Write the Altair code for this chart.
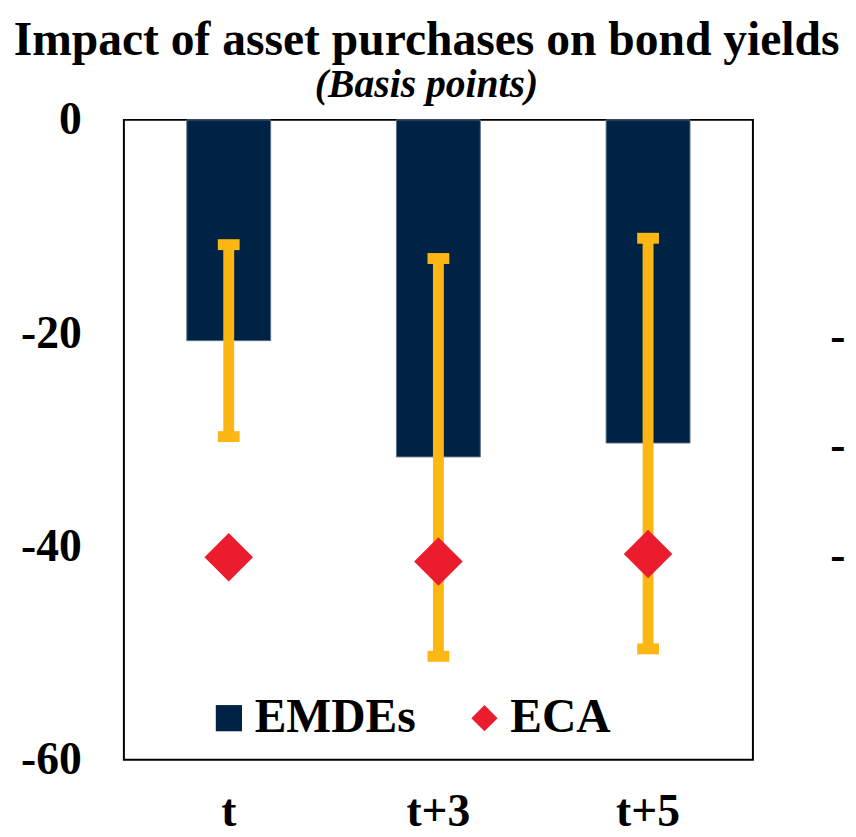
import altair as alt
import pandas as pd

periods = ["t", "t+3", "t+5"]
emdes = [-20.7, -31.6, -30.3]
err_hi = [-11.7, -13.0, -11.1]
err_lo = [-29.7, -50.3, -49.6]
eca = [-41.0, -41.4, -40.7]
y_ticks = [0, -20, -40, -60]
stray_y = [-20.4, -30.6, -40.9]

FONT = "Liberation Serif"
NAVY = "#002345"
GOLD = "#FDB714"
RED = "#EB1C2D"

bars_df = pd.DataFrame({"period": periods, "value": emdes, "series": ["EMDEs"] * 3})
err_df = pd.DataFrame({"period": periods, "hi": err_hi, "lo": err_lo})
eca_df = pd.DataFrame({"period": periods, "value": eca, "series": ["ECA"] * 3})
stray_df = pd.DataFrame({"y": stray_y, "t": ["-"] * 3})

xscale = alt.Scale(domain=periods, paddingInner=0.6, paddingOuter=0.3)
yscale = alt.Scale(domain=[-60, 0], nice=False, zero=False)
series_domain = ["EMDEs", "ECA"]
color_scale = alt.Scale(domain=series_domain, range=[NAVY, RED])
shape_scale = alt.Scale(domain=series_domain, range=["square", "diamond"])

x_enc = alt.X("period:N", scale=xscale, sort=periods, title=None,
              axis=alt.Axis(labelAngle=0, ticks=False, domain=False,
                            labelFont=FONT, labelFontSize=46, labelFontWeight="bold",
                            labelColor="black", labelBaseline="alphabetic",
                            labelPadding=66))

y_axis = alt.Axis(values=y_ticks, ticks=False, domain=False, grid=False,
                  labelFont=FONT, labelFontSize=46, labelFontWeight="bold",
                  labelColor="black", labelPadding=43,
                  labelExpr="datum.value == 0 ? '0' : '-' + abs(datum.value)")

legend = alt.Legend(orient="none", direction="horizontal", legendX=82, legendY=580,
                    title=None, labelFont=FONT, labelFontSize=48, labelFontWeight="bold",
                    labelColor="black", symbolSize=700, symbolStrokeWidth=0,
                    labelOffset=2, columnPadding=45, labelLimit=400, padding=0,
                    symbolOpacity=1)

bars = alt.Chart(bars_df).mark_bar(stroke="#5b7089", strokeWidth=1).encode(
    x=x_enc,
    y=alt.Y("value:Q", scale=yscale, axis=y_axis, title=None),
    color=alt.Color("series:N", scale=color_scale, legend=legend),
    shape=alt.Shape("series:N", scale=shape_scale, legend=legend),
)

rule = alt.Chart(err_df).mark_rule(color=GOLD, strokeWidth=11).encode(
    x=alt.X("period:N", scale=xscale, sort=periods),
    y=alt.Y("hi:Q", scale=yscale),
    y2="lo:Q",
)
cap_hi = alt.Chart(err_df).mark_tick(color=GOLD, thickness=11, size=22, opacity=1).encode(
    x=alt.X("period:N", scale=xscale, sort=periods),
    y=alt.Y("hi:Q", scale=yscale),
)
cap_lo = alt.Chart(err_df).mark_tick(color=GOLD, thickness=11, size=22, opacity=1).encode(
    x=alt.X("period:N", scale=xscale, sort=periods),
    y=alt.Y("lo:Q", scale=yscale),
)

points = alt.Chart(eca_df).mark_point(filled=True, size=2400, opacity=1, strokeWidth=0).encode(
    x=alt.X("period:N", scale=xscale, sort=periods),
    y=alt.Y("value:Q", scale=yscale),
    color=alt.Color("series:N", scale=color_scale, legend=legend),
    shape=alt.Shape("series:N", scale=shape_scale, legend=legend),
)

stray = alt.Chart(stray_df).mark_text(
    font=FONT, fontSize=46, fontWeight="bold", color="black", align="left", baseline="middle"
).encode(
    x=alt.value(713),
    y=alt.Y("y:Q", scale=yscale),
    text="t:N",
)

chart = alt.layer(bars, rule, cap_hi, cap_lo, points, stray).properties(
    width=635,
    height=646,
    background="white",
    padding={"left": 117, "top": 109, "right": 96, "bottom": 72},
    autosize=alt.AutoSizeParams(type="none"),
    title=alt.TitleParams(
        text="Impact of asset purchases on bond yields",
        subtitle="(Basis points)",
        font=FONT, fontSize=48, fontWeight="bold", color="black",
        subtitleFont=FONT, subtitleFontSize=40, subtitleFontWeight="bold",
        subtitleFontStyle="italic", subtitleColor="black",
        anchor="middle", dx=-12, dy=22, offset=14, subtitlePadding=0,
    ),
).configure_view(stroke="black", strokeWidth=2)

chart.save("out.html", embed_options={"renderer": "svg", "actions": False})
